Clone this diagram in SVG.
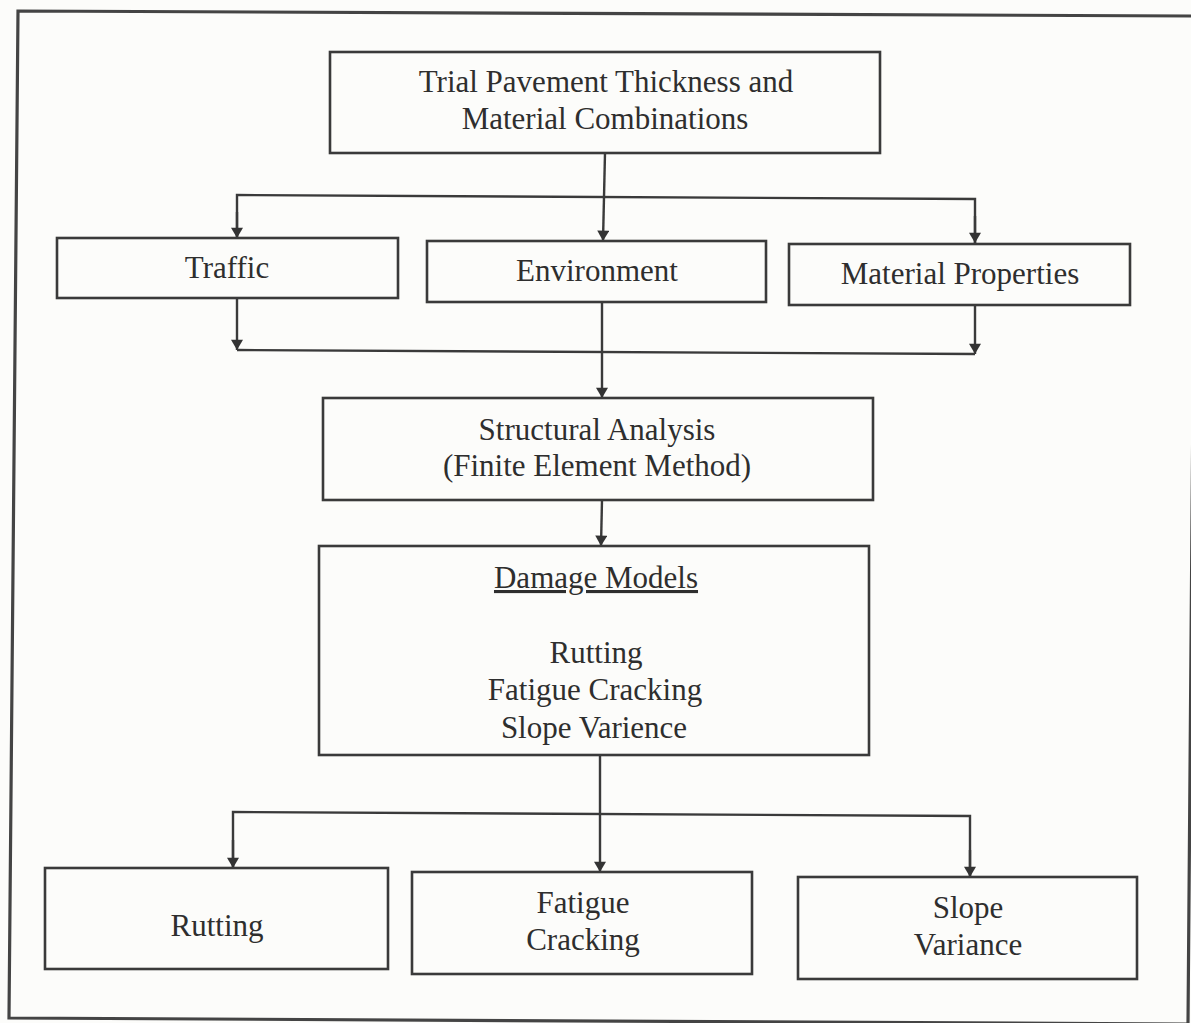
<svg xmlns="http://www.w3.org/2000/svg" width="1191" height="1023" viewBox="0 0 1191 1023">
<defs>
<style>
.box{fill:none;stroke:#3a3a3a;stroke-width:2.6}
.ln{fill:none;stroke:#3a3a3a;stroke-width:2.4}
.t{font-family:"Liberation Serif","Times New Roman",serif;font-size:31px;fill:#2e2e2e;text-anchor:middle}
</style>
<marker id="ah" viewBox="0 0 12 14" refX="12" refY="7" markerWidth="14" markerHeight="12" markerUnits="userSpaceOnUse" orient="auto">
<path d="M0,0 L12,7 L0,14 Z" fill="#333"/>
</marker>
</defs>
<rect width="1191" height="1023" fill="#fcfcfa"/>
<path id="frame" d="M18,11 L1196,16 L1188,1024 L9,1018 Z" fill="none" stroke="#444" stroke-width="3.2"/>

<g id="connectors">
<path class="ln" d="M605,153 L603,241" marker-end="url(#ah)"/>
<path class="ln" d="M237,238 L237,195 L975,199 L975,243"/>
<path class="ln" d="M237,212 L237,238" marker-end="url(#ah)"/>
<path class="ln" d="M975,216 L975,243" marker-end="url(#ah)"/>
<path class="ln" d="M237,298 L237,350" marker-end="url(#ah)"/>
<path class="ln" d="M975,305 L975,354" marker-end="url(#ah)"/>
<path class="ln" d="M237,350 L975,354"/>
<path class="ln" d="M602,302 L602,398" marker-end="url(#ah)"/>
<path class="ln" d="M602,500 L601,546" marker-end="url(#ah)"/>
<path class="ln" d="M600,755 L600,872" marker-end="url(#ah)"/>
<path class="ln" d="M233,868 L233,812 L970,816 L970,877"/>
<path class="ln" d="M233,840 L233,868" marker-end="url(#ah)"/>
<path class="ln" d="M970,850 L970,877" marker-end="url(#ah)"/>
</g>

<g id="trial">
<rect class="box" x="330" y="52" width="550" height="101"/>
<text class="t" x="606" y="92">Trial Pavement Thickness and</text>
<text class="t" x="605" y="129">Material Combinations</text>
</g>
<g id="traffic">
<rect class="box" x="57" y="238" width="341" height="60"/>
<text class="t" x="227" y="278">Traffic</text>
</g>
<g id="environment">
<rect class="box" x="427" y="241" width="339" height="61"/>
<text class="t" x="597" y="281">Environment</text>
</g>
<g id="material">
<rect class="box" x="789" y="244" width="341" height="61"/>
<text class="t" x="960" y="284">Material Properties</text>
</g>
<g id="structural">
<rect class="box" x="323" y="398" width="550" height="102"/>
<text class="t" x="597" y="440">Structural Analysis</text>
<text class="t" x="597" y="476">(Finite Element Method)</text>
</g>
<g id="damage">
<rect class="box" x="319" y="546" width="550" height="209"/>
<text class="t" x="596" y="588" text-decoration="underline">Damage Models</text>
<text class="t" x="596" y="663">Rutting</text>
<text class="t" x="595" y="700">Fatigue Cracking</text>
<text class="t" x="594" y="738">Slope Varience</text>
</g>
<g id="rutting">
<rect class="box" x="45" y="868" width="343" height="101"/>
<text class="t" x="217" y="936">Rutting</text>
</g>
<g id="fatigue">
<rect class="box" x="412" y="872" width="340" height="102"/>
<text class="t" x="583" y="913">Fatigue</text>
<text class="t" x="583" y="950">Cracking</text>
</g>
<g id="slope">
<rect class="box" x="798" y="877" width="339" height="102"/>
<text class="t" x="968" y="918">Slope</text>
<text class="t" x="968" y="955">Variance</text>
</g>
</svg>
